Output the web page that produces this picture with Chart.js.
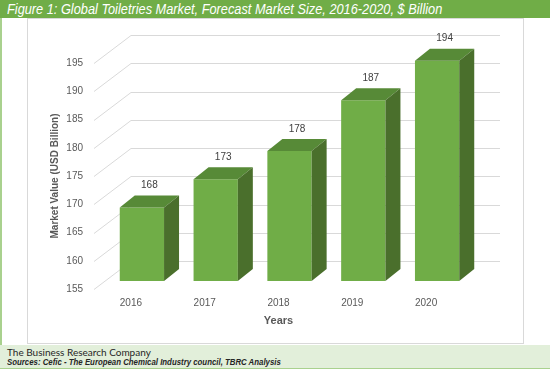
<!DOCTYPE html>
<html>
<head>
<meta charset="utf-8">
<script src="https://cdn.jsdelivr.net/npm/chart.js@4.4.1/dist/chart.umd.min.js"></script>
<style>
  body { margin: 0; width: 550px; height: 369px; position: relative; overflow: hidden; background: #fff; }
  #titlebar { position: absolute; left: 0; top: 0; width: 550px; height: 18px; background: #70AD47; }
  #titletext { position: absolute; left: 7px; top: 0; color: #fff; font: italic 14px 'Liberation Sans', sans-serif; line-height: 18px;
               white-space: nowrap; transform: scaleX(0.912); transform-origin: 0 0; }
  #leftline { position: absolute; left: 0; top: 18px; width: 2px; height: 351px; background: #A9D18E; }
  #box { position: absolute; left: 27px; top: 18px; width: 497px; height: 326px; border: 1px solid #D9D9D9; box-sizing: border-box; }
  #wrap { position: absolute; left: 27px; top: 19px; width: 496px; height: 324px; }
  #footer { position: absolute; left: 0; top: 345px; width: 550px; height: 24px; background: #E2EFDA; border-bottom: 1px solid #A9D18E; box-sizing: border-box; }
  #company { position: absolute; left: 7px; top: 1px; font: 10px Lato, sans-serif; color: #262626; white-space: nowrap; }
  #sources { position: absolute; left: 7px; top: 12px; font: italic bold 9px 'Liberation Sans', sans-serif; color: #262626; white-space: nowrap;
             transform: scaleX(0.87); transform-origin: 0 0; }
</style>
</head>
<body>
<div id="titlebar"><div id="titletext">Figure 1: Global Toiletries Market, Forecast Market Size, 2016-2020, $ Billion</div></div>
<div id="leftline"></div>
<div id="box"></div>
<div id="wrap"><canvas id="myChart" width="496" height="324"></canvas></div>
<div id="footer">
  <div id="company">The Business Research Company</div>
  <div id="sources">Sources: Cefic - The European Chemical Industry council, TBRC Analysis</div>
</div>
<script>
// data
var years = ['2016', '2017', '2018', '2019', '2020'];
var marketSize = [168, 173, 178, 187, 194];
var axisMin = 155;
var axisMax = 195;
var axisStep = 5;

// 3d look: where the front of the bars sits, how deep they are, where the back wall is
var frontShift = { dx: 11, dy: -8 };
var barDepth = { dx: 15, dy: -12 };
var wallShift = { dx: 37, dy: -28 };

var gridColor = '#D9D9D9';
var textColor = '#595959';

var fake3d = {
    id: 'fake3d',
    beforeDatasetsDraw: function (chart) {
        var ctx = chart.ctx;
        var area = chart.chartArea;
        var yScale = chart.scales.y;
        ctx.save();
        ctx.strokeStyle = gridColor;
        ctx.lineWidth = 1;
        yScale.ticks.forEach(function (t) {
            var py = Math.round(yScale.getPixelForValue(t.value)) + 0.5;
            ctx.beginPath();
            ctx.moveTo(area.left, py);
            ctx.lineTo(area.left + wallShift.dx, py + wallShift.dy);
            ctx.lineTo(area.right + wallShift.dx, py + wallShift.dy);
            ctx.stroke();
        });
        ctx.restore();
        // the library draws the front faces, pushed back a bit
        ctx.save();
        ctx.translate(frontShift.dx, frontShift.dy);
    },
    afterDatasetsDraw: function (chart) {
        var ctx = chart.ctx;
        ctx.restore();
        var meta = chart.getDatasetMeta(0);
        ctx.save();
        meta.data.forEach(function (bar, i) {
            var p = bar.getProps(['x', 'y', 'base', 'width'], true);
            var left = p.x - p.width / 2 + frontShift.dx;
            var right = p.x + p.width / 2 + frontShift.dx;
            var top = p.y + frontShift.dy;
            var bottom = p.base + frontShift.dy;

            // top face
            ctx.fillStyle = '#578A37';
            ctx.beginPath();
            ctx.moveTo(left, top);
            ctx.lineTo(right, top);
            ctx.lineTo(right + barDepth.dx, top + barDepth.dy);
            ctx.lineTo(left + barDepth.dx, top + barDepth.dy);
            ctx.closePath();
            ctx.fill();

            // side face
            ctx.fillStyle = '#4A6F2C';
            ctx.beginPath();
            ctx.moveTo(right, top);
            ctx.lineTo(right + barDepth.dx, top + barDepth.dy);
            ctx.lineTo(right + barDepth.dx, bottom + barDepth.dy);
            ctx.lineTo(right, bottom);
            ctx.closePath();
            ctx.fill();

            // value label
            ctx.fillStyle = '#404040';
            ctx.font = "10px 'Liberation Sans', sans-serif";
            ctx.textAlign = 'center';
            ctx.textBaseline = 'middle';
            ctx.fillText(String(marketSize[i]), p.x + frontShift.dx + barDepth.dx / 2, top + barDepth.dy / 2 - 16);
        });
        ctx.restore();
    }
};

Chart.defaults.font.family = "'Liberation Sans', sans-serif";

var myChart = new Chart('myChart', {
    type: 'bar',
    data: {
        labels: years,
        datasets: [{
            label: 'Market Value',
            data: marketSize,
            base: axisMin,
            backgroundColor: '#70AD47',
            borderWidth: 0,
            barPercentage: 0.6,
            categoryPercentage: 1,
            clip: false
        }]
    },
    options: {
        responsive: false,
        animation: false,
        devicePixelRatio: 1,
        layout: { padding: { top: 44, right: 60, left: 0, bottom: 0 } },
        plugins: {
            legend: { display: false },
            tooltip: { enabled: false }
        },
        scales: {
            x: {
                grid: { display: false, drawTicks: false },
                border: { display: false },
                ticks: { color: textColor, font: { size: 10 }, padding: 8 },
                title: { display: true, text: 'Years', color: textColor, font: { size: 11, weight: 'bold' }, padding: { top: 0, bottom: 15 } },
                afterFit: function (scale) { scale.height = 54; }
            },
            y: {
                min: axisMin,
                max: axisMax,
                grid: { display: false, drawTicks: false },
                border: { display: false },
                ticks: { stepSize: axisStep, color: textColor, font: { size: 10 }, padding: 11 },
                title: { display: true, text: 'Market Value (USD Billion)', color: textColor, font: { size: 10, weight: 'bold' }, padding: { top: 22, bottom: 0 } },
                afterFit: function (scale) { scale.width = 67; }
            }
        }
    },
    plugins: [fake3d]
});
</script>
</body>
</html>
